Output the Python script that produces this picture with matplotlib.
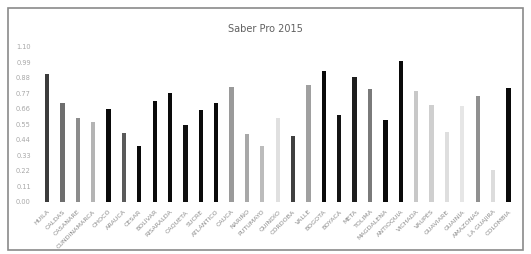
import numpy as np
import matplotlib
matplotlib.use("Agg")
import matplotlib.pyplot as plt
from matplotlib.patches import Rectangle


# Saber Pro 2015
departments = ["HUILA", "CALDAS", "CASANARE", "CUNDINAMARCA", "CHOCÓ", "ARAUCA",
               "CESAR", "BOLÍVAR", "RISARALDA", "CAQUETÁ", "SUCRE", "ATLÁNTICO",
               "CAUCA", "NARIÑO", "PUTUMAYO", "QUINDÍO", "CÓRDOBA", "VALLE",
               "BOGOTÁ", "BOYACÁ", "META", "TOLIMA", "MAGDALENA", "ANTIOQUIA",
               "VICHADA", "VAUPÉS", "GUAVIARE", "GUAINÍA", "AMAZONAS", "LA GUAJIRA",
               "COLOMBIA"]
scores = [0.91, 0.70, 0.595, 0.57, 0.66, 0.49, 0.40, 0.715, 0.775, 0.545,
          0.65, 0.70, 0.815, 0.48, 0.40, 0.595, 0.47, 0.83, 0.93, 0.62,
          0.885, 0.80, 0.58, 1.00, 0.785, 0.69, 0.50, 0.68, 0.75, 0.23,
          0.81]
bar_grays = ["#3c3c3c", "#6e6e6e", "#8c8c8c", "#b4b4b4", "#0a0a0a", "#5a5a5a",
             "#0a0a0a", "#0a0a0a", "#0a0a0a", "#101010", "#0a0a0a", "#0a0a0a",
             "#9a9a9a", "#a8a8a8", "#bcbcbc", "#e0e0e0", "#404040", "#a0a0a0",
             "#0a0a0a", "#141414", "#1e1e1e", "#7a7a7a", "#0a0a0a", "#0a0a0a",
             "#c8c8c8", "#cfcfcf", "#dedede", "#e6e6e6", "#909090", "#dcdcdc",
             "#0a0a0a"]
y_ticks = [0.00, 0.11, 0.22, 0.33, 0.44, 0.55, 0.66, 0.77, 0.88, 0.99, 1.10]


def main():
    fig = plt.figure(figsize=(5.31, 2.54), dpi=100)
    ax = fig.add_axes([0.074, 0.205, 0.898, 0.61])

    x = np.arange(len(departments))
    ax.bar(x, scores, width=0.28, color=bar_grays)

    ax.set_xlim(-0.5, len(departments) - 0.5)
    ax.set_ylim(0, 1.10)
    ax.set_yticks(y_ticks)
    ax.set_yticklabels(["{:.2f}".format(v) for v in y_ticks])
    ax.set_xticks(x)
    ax.set_xticklabels(departments, rotation=45, ha="right", rotation_mode="anchor")
    ax.tick_params("y", labelsize=4.8, labelcolor="#a8a8a8", length=0, pad=6)
    ax.tick_params("x", labelsize=4.6, labelcolor="#8a8a8a", length=0, pad=5)
    for side in ["top", "right", "left", "bottom"]:
        ax.spines[side].set_visible(False)

    fig.text(0.5, 0.885, "Saber Pro 2015", ha="center", va="center",
             fontsize=7, color="#606060")

    # grey frame around the whole chart
    fig.patches.append(Rectangle((0.016, 0.016), 0.968, 0.954, transform=fig.transFigure,
                                 fill=False, edgecolor="#8a8a8a", linewidth=1.2))

    fig.savefig("out.png", dpi=100)


if __name__ == "__main__":
    main()
